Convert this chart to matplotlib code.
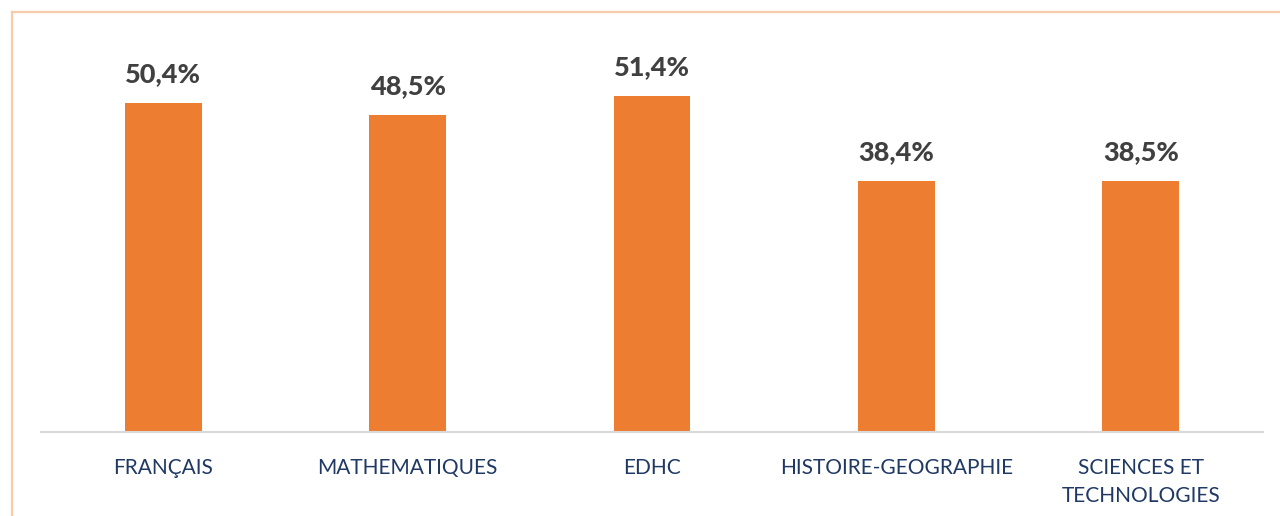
import matplotlib.pyplot as plt
from matplotlib.lines import Line2D

# Données
categories = ["FRANÇAIS", "MATHEMATIQUES", "EDHC", "HISTOIRE-GEOGRAPHIE", "SCIENCES ET\nTECHNOLOGIES"]
values = [50.4, 48.5, 51.4, 38.4, 38.5]
labels = ["50,4%", "48,5%", "51,4%", "38,4%", "38,5%"]

W, H = 1280, 516
fig = plt.figure(figsize=(W / 100, H / 100), dpi=100)
plt.rcParams['font.family'] = ['Lato', 'DejaVu Sans']

# cadre orange clair (coupé à droite et en bas)
fig.add_artist(Line2D([11.5 / W, 1.0], [1 - 11.5 / H, 1 - 11.5 / H], transform=fig.transFigure,
                      color="#F8CBAD", lw=1.6))
fig.add_artist(Line2D([11.5 / W, 11.5 / W], [0, 1 - 11.5 / H], transform=fig.transFigure,
                      color="#F8CBAD", lw=1.6))

ymax = 60
px_per_unit = 329 / 50.4
ax_h = ymax * px_per_unit
ax = fig.add_axes([41 / W, 84 / H, (1263 - 41) / W, ax_h / H])

x = range(len(categories))
bars = ax.bar(x, values, width=0.315, color="#ED7D31")
for b, lab in zip(bars, labels):
    ax.text(b.get_x() + b.get_width() / 2, b.get_height() + 2.6, lab,
            ha="center", va="bottom", fontsize=19.5, fontweight="black", color="#404040")

ax.set_xlim(-0.5, len(categories) - 0.5)
ax.set_ylim(0, ymax)
ax.set_xticks(list(x))
ax.set_xticklabels(categories, fontsize=15, color="#1F3864", linespacing=1.45)
ax.tick_params(axis="x", length=0, pad=19)
ax.set_yticks([])
for s in ["top", "right", "left"]:
    ax.spines[s].set_visible(False)
ax.spines["bottom"].set_color("#D9D9D9")
ax.spines["bottom"].set_linewidth(1.5)

fig.savefig("out.png", dpi=100)
